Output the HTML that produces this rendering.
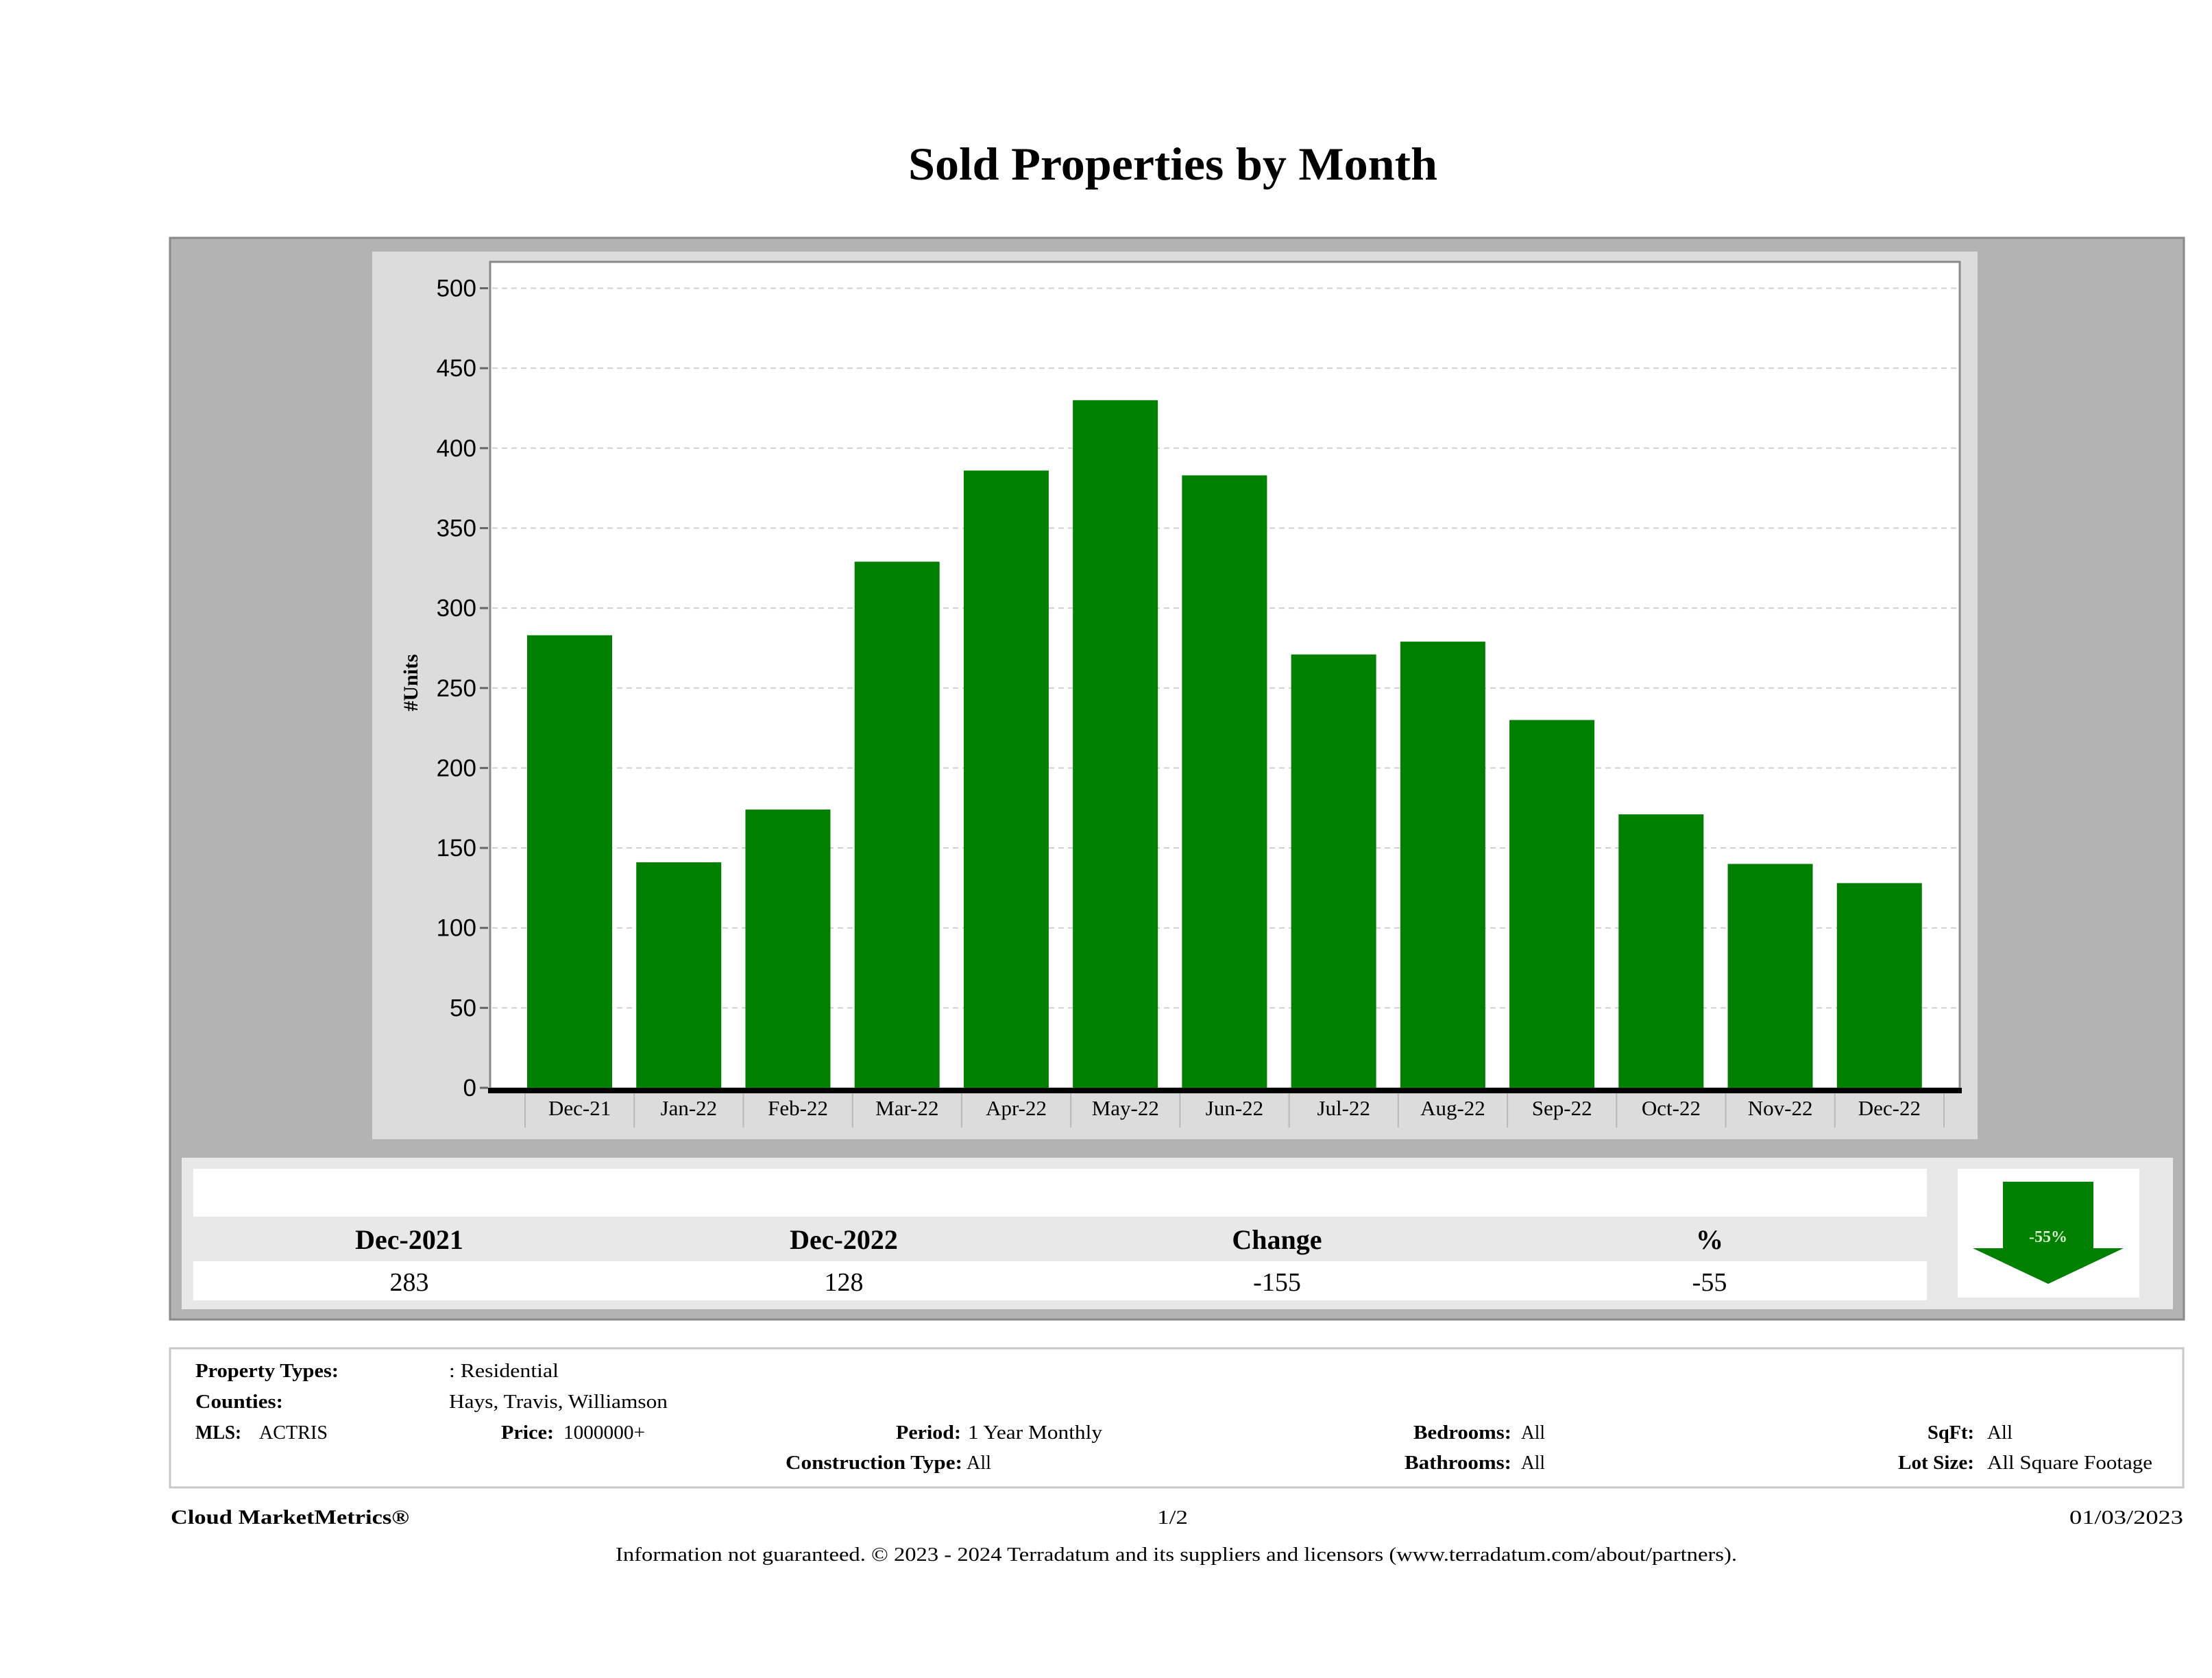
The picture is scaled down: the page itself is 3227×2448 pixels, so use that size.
<!DOCTYPE html>
<html><head><meta charset="utf-8"><style>
html,body{margin:0;padding:0;background:#fff;}
svg{display:block;}
text{font-family:"Liberation Serif",serif;fill:#000;}
.nar{font-family:"Liberation Sans Narrow","Liberation Sans",sans-serif;}
</style></head><body>
<svg id="root" width="3227" height="2448" viewBox="0 0 3227 2448" xmlns="http://www.w3.org/2000/svg">
<text x="1711" y="262" text-anchor="middle" font-size="68" font-weight="bold" textLength="772" lengthAdjust="spacingAndGlyphs">Sold Properties by Month</text>
<rect x="248" y="347" width="2938" height="1578" fill="#b3b3b3" stroke="#8a8a8a" stroke-width="3"/>
<rect x="543" y="367" width="2342" height="295" fill="#dcdcdc"/>
<rect x="543" y="367" width="2342" height="1295" fill="#dcdcdc"/>
<rect x="715" y="382" width="2144" height="1206" fill="#fff" stroke="#8a8a8a" stroke-width="3"/>
<g id="grid"></g>
<g id="yaxis"></g>
<g id="bars"></g>
<rect x="712" y="1587" width="2150" height="8" fill="#000"/>
<g id="xaxis"></g>
<text transform="translate(609,996) rotate(-90)" text-anchor="middle" font-size="30" font-weight="bold">#Units</text>

<rect x="265" y="1689" width="2905" height="221" fill="#e8e8e8"/>
<rect x="282" y="1705" width="2529" height="70" fill="#fff"/>
<rect x="282" y="1840" width="2529" height="57" fill="#fff"/>
<g font-weight="bold" font-size="40" text-anchor="middle">
<text x="597" y="1822">Dec-2021</text>
<text x="1231" y="1822">Dec-2022</text>
<text x="1863" y="1822">Change</text>
<text x="2494" y="1822">%</text>
</g>
<g font-size="38" text-anchor="middle">
<text x="597" y="1883">283</text>
<text x="1231" y="1883">128</text>
<text x="1863" y="1883">-155</text>
<text x="2494" y="1883">-55</text>
</g>
<rect x="2856" y="1705" width="265" height="188" fill="#fff"/>
<polygon points="2922,1724 3054,1724 3054,1821 3098,1821 2988,1873 2878,1821 2922,1821" fill="#007f00"/>
<text x="2988" y="1812" text-anchor="middle" font-size="24" font-weight="bold" style="fill:#d8f5d0">-55%</text>

<rect x="248" y="1967" width="2937" height="203" fill="#fff" stroke="#c8c8c8" stroke-width="3"/>
<g font-size="28">
<text x="285" y="2009" font-weight="bold" textLength="209" lengthAdjust="spacingAndGlyphs">Property Types:</text>
<text x="655" y="2009" textLength="160" lengthAdjust="spacingAndGlyphs">: Residential</text>
<text x="285" y="2054" font-weight="bold" textLength="888" lengthAdjust="spacingAndGlyphs" style="display:none">x</text>
<text x="285" y="2054" font-weight="bold" textLength="128" lengthAdjust="spacingAndGlyphs">Counties:</text>
<text x="655" y="2054" textLength="319" lengthAdjust="spacingAndGlyphs">Hays, Travis, Williamson</text>
<text x="285" y="2099" font-weight="bold" textLength="67" lengthAdjust="spacingAndGlyphs">MLS:</text>
<text x="378" y="2099" textLength="100" lengthAdjust="spacingAndGlyphs">ACTRIS</text>
<text x="731" y="2099" font-weight="bold" textLength="77" lengthAdjust="spacingAndGlyphs">Price:</text>
<text x="822" y="2099" textLength="119" lengthAdjust="spacingAndGlyphs">1000000+</text>
<text x="1307" y="2099" font-weight="bold" textLength="95" lengthAdjust="spacingAndGlyphs">Period:</text>
<text x="1412" y="2099" textLength="196" lengthAdjust="spacingAndGlyphs">1 Year Monthly</text>
<text x="1146" y="2143" font-weight="bold" textLength="258" lengthAdjust="spacingAndGlyphs">Construction Type:</text>
<text x="1410" y="2143" textLength="36" lengthAdjust="spacingAndGlyphs">All</text>
<text x="2062" y="2099" font-weight="bold" textLength="143" lengthAdjust="spacingAndGlyphs">Bedrooms:</text>
<text x="2219" y="2099" textLength="35" lengthAdjust="spacingAndGlyphs">All</text>
<text x="2049" y="2143" font-weight="bold" textLength="156" lengthAdjust="spacingAndGlyphs">Bathrooms:</text>
<text x="2219" y="2143" textLength="35" lengthAdjust="spacingAndGlyphs">All</text>
<text x="2812" y="2099" font-weight="bold" textLength="68" lengthAdjust="spacingAndGlyphs">SqFt:</text>
<text x="2899" y="2099" textLength="37" lengthAdjust="spacingAndGlyphs">All</text>
<text x="2769" y="2143" font-weight="bold" textLength="111" lengthAdjust="spacingAndGlyphs">Lot Size:</text>
<text x="2899" y="2143" textLength="241" lengthAdjust="spacingAndGlyphs">All Square Footage</text>
<text x="249" y="2223" font-weight="bold" font-size="30" textLength="348" lengthAdjust="spacingAndGlyphs">Cloud MarketMetrics®</text>
<text x="1688" y="2223" textLength="45" lengthAdjust="spacingAndGlyphs">1/2</text>
<text x="3019" y="2223" textLength="166" lengthAdjust="spacingAndGlyphs">01/03/2023</text>
<text x="898" y="2277" textLength="1636" lengthAdjust="spacingAndGlyphs">Information not guaranteed. © 2023 - 2024 Terradatum and its suppliers and licensors (www.terradatum.com/about/partners).</text>
</g>
</svg>
<script>
const categories = ["Dec-21","Jan-22","Feb-22","Mar-22","Apr-22","May-22","Jun-22","Jul-22","Aug-22","Sep-22","Oct-22","Nov-22","Dec-22"];
const soldUnits = [283,141,174,329,386,430,383,271,279,230,171,140,128];
const yTicks = [0,50,100,150,200,250,300,350,400,450,500];
(function(){
  const NS="http://www.w3.org/2000/svg";
  const y0=1587, pxPerUnit=233.3/100;
  const bandStart=766, bandEnd=2836, n=categories.length, bw=(bandEnd-bandStart)/n;
  const yScale=v=>y0-v*pxPerUnit;
  const xBand=i=>bandStart+i*bw;
  const mk=(t,a,p)=>{const e=document.createElementNS(NS,t);for(const k in a)e.setAttribute(k,a[k]);p.appendChild(e);return e;};
  const grid=document.getElementById('grid'), ya=document.getElementById('yaxis'), bars=document.getElementById('bars'), xa=document.getElementById('xaxis');
  yTicks.forEach(v=>{
    const y=yScale(v);
    if(v>0){const g=mk('line',{x1:718,x2:2856,y1:y,y2:y,stroke:'#d0d0d0','stroke-width':2,'stroke-dasharray':'8 6'},grid);
    
    }
    const tk=mk('line',{x1:700,x2:712,y1:y,y2:y,stroke:'#666','stroke-width':3},ya);
    
    
    const t=mk('text',{x:695,y:y+12,'text-anchor':'end','font-size':35,'class':'nar'},ya);
    t.textContent=v;
    
    
  });
  categories.forEach((c,i)=>{
    const x=xBand(i)+3, top=yScale(soldUnits[i]);
    const r=mk('rect',{x:x,y:top,width:124,height:y0-top,fill:'#007f00'},bars);
    
    
    const s=mk('line',{x1:xBand(i),x2:xBand(i),y1:1595,y2:1645,stroke:'#b8b8b8','stroke-width':2},xa);
    
    
    const t=mk('text',{x:xBand(i)+bw/2,y:1627,'text-anchor':'middle','font-size':31},xa);
    t.textContent=c;
    
    
  });
  const last=mk('line',{x1:bandEnd,x2:bandEnd,y1:1595,y2:1645,stroke:'#b8b8b8','stroke-width':2},xa);
  
  
})();
</script>
</body></html>
